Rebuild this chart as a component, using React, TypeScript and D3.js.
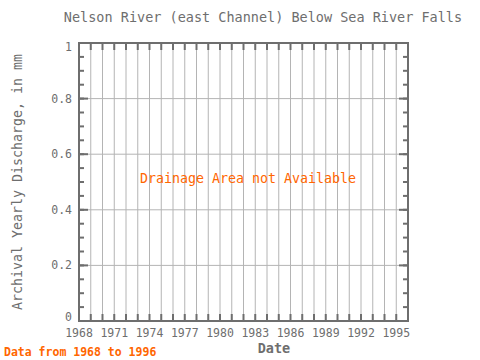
import React, { useRef, useEffect } from "react";
import * as d3 from "d3";

const title = "Nelson River (east Channel) Below Sea River Falls";
const years = d3.range(1968, 1997);
const yearLabels = [1968, 1971, 1974, 1977, 1980, 1983, 1986, 1989, 1992, 1995];
const yTicks = [0, 0.2, 0.4, 0.6, 0.8, 1];
const yMinor = d3.range(0, 1.0001, 0.05);
const note = "Drainage Area not Available";
const footer = "Data from 1968 to 1996";

export default function App() {
  const svgRef = useRef(null);

  useEffect(() => {
    const svg = d3.select(svgRef.current);
    svg.selectAll("*").remove();
    const left = 79, right = 408, top = 43, bottom = 321;
    const font = "'DejaVu Sans Mono', monospace";
    const axisColor = "#6e6e6e";
    const gridColor = "#b4b4b4";

    const x = d3.scaleLinear().domain([1968, 1996]).range([left, right]);
    const y = d3.scaleLinear().domain([0, 1]).range([bottom, top]);

    svg.append("rect").attr("width", 480).attr("height", 360).attr("fill", "white");

    // grid
    svg.selectAll(".vgrid").data(years).join("line")
      .attr("x1", d => x(d)).attr("x2", d => x(d))
      .attr("y1", top).attr("y2", bottom)
      .attr("stroke", gridColor).attr("stroke-width", 1);
    svg.selectAll(".hgrid").data(yTicks).join("line")
      .attr("x1", left).attr("x2", right)
      .attr("y1", d => y(d)).attr("y2", d => y(d))
      .attr("stroke", gridColor).attr("stroke-width", 1);

    // x ticks top & bottom, y ticks left & right
    const tick = svg.append("g").attr("stroke", axisColor).attr("stroke-width", 2);
    years.forEach(d => {
      tick.append("line").attr("x1", x(d)).attr("x2", x(d)).attr("y1", bottom).attr("y2", bottom - 7);
      tick.append("line").attr("x1", x(d)).attr("x2", x(d)).attr("y1", top).attr("y2", top + 7);
    });
    yMinor.forEach(d => {
      tick.append("line").attr("x1", left).attr("x2", left + 5).attr("y1", y(d)).attr("y2", y(d));
      tick.append("line").attr("x1", right).attr("x2", right - 5).attr("y1", y(d)).attr("y2", y(d));
    });
    yTicks.forEach(d => {
      tick.append("line").attr("x1", left).attr("x2", left + 9).attr("y1", y(d)).attr("y2", y(d));
      tick.append("line").attr("x1", right).attr("x2", right - 9).attr("y1", y(d)).attr("y2", y(d));
    });

    // frame
    svg.append("rect")
      .attr("x", left).attr("y", top)
      .attr("width", right - left).attr("height", bottom - top)
      .attr("fill", "none").attr("stroke", axisColor).attr("stroke-width", 2);

    // labels
    svg.selectAll(".xl").data(yearLabels).join("text")
      .attr("x", d => x(d)).attr("y", 337)
      .attr("text-anchor", "middle")
      .attr("font-family", font).attr("font-size", 11.5)
      .attr("fill", axisColor).text(d => d);
    svg.selectAll(".yl").data(yTicks).join("text")
      .attr("x", left - 7)
      .attr("y", d => y(d) + 4 + (d === 0 ? -4 : d === 1 ? 4 : 0))
      .attr("text-anchor", "end")
      .attr("font-family", font).attr("font-size", 11.5)
      .attr("fill", axisColor).text(d => d3.format("")(d));

    svg.append("text").attr("x", 263).attr("y", 22)
      .attr("text-anchor", "middle").attr("font-family", font).attr("font-size", 13.5)
      .attr("fill", axisColor).text(title);

    svg.append("text").attr("x", 274).attr("y", 353)
      .attr("text-anchor", "middle").attr("font-family", font).attr("font-size", 13.5)
      .attr("font-weight", "bold").attr("fill", axisColor).text("Date");

    svg.append("text")
      .attr("transform", "translate(22,182) rotate(-90)")
      .attr("text-anchor", "middle").attr("font-family", font).attr("font-size", 13.3)
      .attr("fill", axisColor).text("Archival Yearly Discharge, in mm");

    svg.append("text").attr("x", 248).attr("y", y(0.5) + 1)
      .attr("text-anchor", "middle").attr("font-family", font).attr("font-size", 13.3)
      .attr("fill", "#ff6600").text(note);

    svg.append("text").attr("x", 4).attr("y", 356)
      .attr("font-family", font).attr("font-size", 11.5).attr("font-weight", "bold")
      .attr("fill", "#ff6600").text(footer);
  }, []);

  return (
    <svg ref={svgRef} width={480} height={360}
      style={{ position: "absolute", left: 0, top: 0 }} />
  );
}
